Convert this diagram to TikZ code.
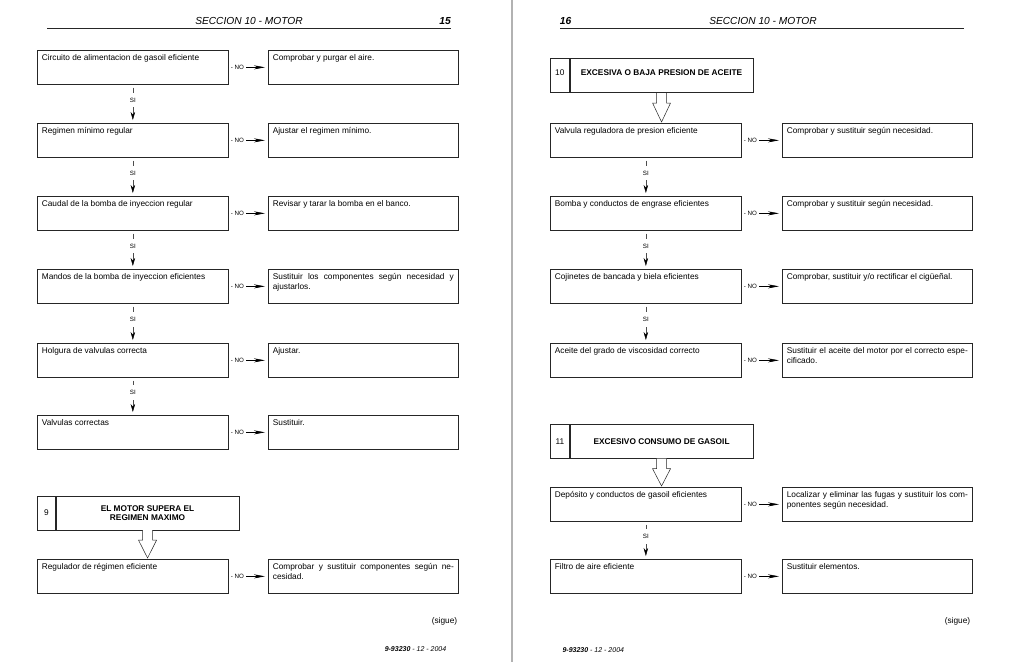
\documentclass[tikz,border=0pt]{standalone}
\usepackage{fontspec}
\setmainfont{Liberation Sans}
\usetikzlibrary{positioning,calc,arrows.meta}
\tikzset{
  query/.style    = {shape=rectangle, draw=black!85, line width=0.7pt,
                     anchor=north west, text width=182pt, align=justify,
                     inner xsep=4.5pt, inner ysep=4pt,
                     text height=6.5pt, text depth=19.5pt,
                     font=\fontsize{8.3}{9.3}\selectfont},
  remedy/.style   = {query, text width=181pt},
  numbox/.style   = {shape=rectangle, draw=black!85, line width=0.7pt,
                     anchor=north west, minimum width=18pt,
                     minimum height=34pt, inner sep=0pt,
                     font=\fontsize{8.3}{9.3}\selectfont},
  titlebox/.style = {numbox, anchor=center, minimum width=183pt,
                     align=center, font=\fontsize{8.3}{9}\selectfont\bfseries},
  header/.style   = {font=\fontsize{10.2}{12}\selectfont\itshape},
  pagenum/.style  = {font=\fontsize{10.2}{12}\selectfont\bfseries\itshape},
  footer/.style   = {font=\fontsize{7}{8}\selectfont\itshape},
  sigue/.style    = {font=\fontsize{8.3}{9.3}\selectfont},
  rule/.style     = {line width=0.7pt, black!85},
  siline/.style   = {line width=0.4pt, black!70, shorten <=3pt, shorten >=3pt,
                     -{Stealth[length=8pt,width=4.5pt,black]}},
  silabel/.style  = {fill=white, text=black, inner xsep=1pt, inner ysep=5pt,
                     font=\fontsize{6.2}{7}\selectfont},
  noline/.style   = {line width=0.5pt, shorten >=3pt,
                     -{Stealth[length=11pt,width=4pt]}},
  nolabel/.style  = {fill=white, anchor=west, inner xsep=1.8pt, inner ysep=1pt,
                     font=\fontsize{6.2}{7}\selectfont},
  hollow/.style   = {draw=black!85, line width=0.5pt, fill=white}
}
\begin{document}
\begin{tikzpicture}[x=1pt, y=-1pt]
  \useasboundingbox (0,0) rectangle (1024,662);
  \draw[black!30, line width=1.6pt] (512,0) -- (512,662);

  % page 15
  \node[header]  (sec15) at (249,21) {SECCION 10 - MOTOR};
  \node[pagenum] (p15)   at (445,21) {15};
  \draw[rule] (47,28.3) -- (451,28.3);

  \node[query]  (q1) at (37,50)  {Circuito de alimentacion de gasoil eficiente};
  \node[remedy] (a1) at (268,50) {Comprobar y purgar el aire.};
  \node[query]  (q2) at (37,123)  {Regimen mínimo regular};
  \node[remedy] (a2) at (268,123) {Ajustar el regimen mínimo.};
  \node[query]  (q3) at (37,196)  {Caudal de la bomba de inyeccion regular};
  \node[remedy] (a3) at (268,196) {Revisar y tarar la bomba en el banco.};
  \node[query]  (q4) at (37,269)  {Mandos de la bomba de inyeccion eficientes};
  \node[remedy] (a4) at (268,269) {Sustituir los componentes según necesidad y\linebreak ajustarlos.};
  \node[query]  (q5) at (37,343)  {Holgura de valvulas correcta};
  \node[remedy] (a5) at (268,343) {Ajustar.};
  \node[query]  (q6) at (37,415)  {Valvulas correctas};
  \node[remedy] (a6) at (268,415) {Sustituir.};

  \node[numbox] (n9) at (37,495.5) {9};
  \node[titlebox, right=0pt of n9] (t9) {EL MOTOR SUPERA EL\\REGIMEN MAXIMO};
  \node[query]  (q7) at (37,559)  {Regulador de régimen eficiente};
  \node[remedy] (a7) at (268,559) {Comprobar y sustituir componentes según ne-\linebreak cesidad.};

  \node[sigue]  (sg15) at (444.5,621.7) {(sigue)};
  \node[footer] (f15)  at (415.5,649) {\textbf{9-93230} - 12 - 2004};

  % page 16
  \node[pagenum] (p16)   at (565.5,21) {16};
  \node[header]  (sec16) at (763,21) {SECCION 10 - MOTOR};
  \draw[rule] (560,28.3) -- (964,28.3);

  \node[numbox, minimum width=19pt, text depth=6pt] (n10) at (550,58.3) {10};
  \node[titlebox, right=0pt of n10, text depth=6pt] (t10) {EXCESIVA O BAJA PRESION DE ACEITE};
  \node[query]  (r1) at (550,123) {Valvula reguladora de presion eficiente};
  \node[remedy] (s1) at (782,123) {Comprobar y sustituir según necesidad.};
  \node[query]  (r2) at (550,196) {Bomba y conductos de engrase eficientes};
  \node[remedy] (s2) at (782,196) {Comprobar y sustituir según necesidad.};
  \node[query]  (r3) at (550,269) {Cojinetes de bancada y biela eficientes};
  \node[remedy] (s3) at (782,269) {Comprobar, sustituir y/o rectificar el cigüeñal.};
  \node[query]  (r4) at (550,343) {Aceite del grado de viscosidad correcto};
  \node[remedy] (s4) at (782,343) {Sustituir el aceite del motor por el correcto espe-\linebreak cificado.};

  \node[numbox, minimum width=19pt] (n11) at (550,424) {11};
  \node[titlebox, right=0pt of n11] (t11) {EXCESIVO CONSUMO DE GASOIL};
  \node[query]  (r5) at (550,487) {Depósito y conductos de gasoil eficientes};
  \node[remedy] (s5) at (782,487) {Localizar y eliminar las fugas y sustituir los com-\linebreak ponentes según necesidad.};
  \node[query]  (r6) at (550,559) {Filtro de aire eficiente};
  \node[remedy] (s6) at (782,559) {Sustituir elementos.};

  \node[sigue]  (sg16) at (957.5,621.7) {(sigue)};
  \node[footer] (f16)  at (593.3,650) {\textbf{9-93230} - 12 - 2004};

  % connectors
  \foreach \a/\b in {q1/q2, q2/q3, q3/q4, q4/q5, q5/q6, r1/r2, r2/r3, r3/r4, r5/r6}
    \draw[siline] (\a.south) -- (\b.north) node[pos=0.4, silabel] {SI};
  \foreach \a/\b in {q1/a1, q2/a2, q3/a3, q4/a4, q5/a5, q6/a6, q7/a7,
                     r1/s1, r2/s2, r3/s3, r4/s4, r5/s5, r6/s6}
    \draw[noline] (\a) -- (\b) node[pos=0, nolabel] {- NO};
  \foreach \t/\b in {t9/q7, t10/r1, t11/r5}
    \draw[hollow] ($(\t.south)+(-5,0)$) -- ++(0,10) -- ++(-4,0)
      -- ($(\t.south |- \b.north)+(0,-1)$) -- ($(\t.south)+(9,10)$)
      -- ++(-4,0) -- ++(0,-10);
\end{tikzpicture}
\end{document}
